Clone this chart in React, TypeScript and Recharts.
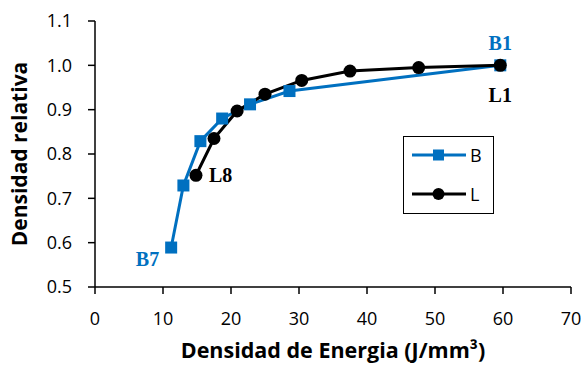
import React from "react";
import {
  ComposedChart,
  Line,
  XAxis,
  YAxis,
} from "recharts";

const bEnergy = [11.2, 13.0, 15.5, 18.7, 22.8, 28.6, 59.6];
const bDensity = [0.589, 0.729, 0.829, 0.88, 0.912, 0.942, 1.0];
const bLabels = ["B7", "", "", "", "", "", "B1"];

const lEnergy = [14.85, 17.5, 20.9, 25.0, 30.4, 37.5, 47.6, 59.6];
const lDensity = [0.752, 0.835, 0.897, 0.935, 0.966, 0.987, 0.995, 1.0];
const lLabels = ["L8", "", "", "", "", "", "", "L1"];

const xTicks = [0, 10, 20, 30, 40, 50, 60, 70];
const yTicks = [0.5, 0.6, 0.7, 0.8, 0.9, 1.0, 1.1];

const BLUE = "#0070C0";

const bData = bEnergy.map((x, i) => ({ x, y: bDensity[i] }));
const lData = lEnergy.map((x, i) => ({ x, y: lDensity[i] }));

const SquareDot = (props: any) => {
  const { cx, cy } = props;
  if (cx == null || cy == null) return null;
  return <rect x={cx - 6} y={cy - 6} width={12} height={12} fill={BLUE} />;
};

const CircleDot = (props: any) => {
  const { cx, cy } = props;
  if (cx == null || cy == null) return null;
  return <circle cx={cx} cy={cy} r={6.5} fill="#000" />;
};

const tagStyle = {
  fontFamily: "Liberation Serif",
  fontWeight: 700,
  fontSize: 20,
};

const BTag = (props: any) => {
  const { x, y, index } = props;
  const t = bLabels[index];
  if (!t) return null;
  if (t === "B7")
    return (
      <text x={x - 12} y={y + 18} textAnchor="end" fill={BLUE} style={tagStyle}>
        {t}
      </text>
    );
  return (
    <text x={x} y={y - 15} textAnchor="middle" fill={BLUE} style={tagStyle}>
      {t}
    </text>
  );
};

const LTag = (props: any) => {
  const { x, y, index } = props;
  const t = lLabels[index];
  if (!t) return null;
  if (t === "L8")
    return (
      <text x={x + 13} y={y + 7} textAnchor="start" fill="#000" style={tagStyle}>
        {t}
      </text>
    );
  return (
    <text x={x} y={y + 37} textAnchor="middle" fill="#000" style={tagStyle}>
      {t}
    </text>
  );
};

const LegendBox = () => (
  <div
    style={{
      position: "absolute",
      left: 403,
      top: 136,
      width: 91,
      height: 78,
      border: "1.5px solid #000",
      background: "#fff",
      boxSizing: "border-box",
      fontFamily: "Open Sans",
      fontSize: 18,
    }}
  >
    <svg width={88} height={75}>
      <line x1={8} y1={18} x2={62} y2={18} stroke={BLUE} strokeWidth={3} />
      <rect x={29} y={12.5} width={11} height={11} fill={BLUE} />
      <text x={66} y={25} fill="#000">B</text>
      <line x1={8} y1={57} x2={62} y2={57} stroke="#000" strokeWidth={3} />
      <circle cx={34.5} cy={57} r={6} fill="#000" />
      <text x={66} y={64} fill="#000">L</text>
    </svg>
  </div>
);

const tickFont = { fontFamily: "Open Sans", fontSize: 18, fill: "#000" };
const titleStyle = {
  fontFamily: "Open Sans",
  fontWeight: 700,
  fontSize: 21,
  fill: "#000",
};

export default function App() {
  return (
    <div style={{ position: "absolute", left: 0, top: 0, background: "#fff" }}>
      <ComposedChart
        width={585}
        height={365}
        margin={{ top: 21, right: 14, bottom: 0, left: 0 }}
      >
        <XAxis
          xAxisId="b"
          dataKey="x"
          type="number"
          domain={[0, 70]}
          ticks={xTicks}
          tick={tickFont}
          tickLine={{ stroke: "#000", strokeWidth: 1.5 }}
          axisLine={{ stroke: "#000", strokeWidth: 1.5 }}
          tickSize={7}
          tickMargin={18}
          height={78}
          allowDataOverflow
          label={{
            value: "Densidad de Energia (J/mm³)",
            position: "insideBottom",
            offset: 7,
            style: { ...titleStyle, fontSize: 21.5 },
          }}
        />
        <XAxis
          xAxisId="top"
          orientation="top"
          type="number"
          domain={[0, 70]}
          tick={false}
          tickLine={false}
          axisLine={{ stroke: "#000", strokeWidth: 1.5 }}
          height={0}
        />
        <YAxis
          yAxisId="l"
          type="number"
          domain={[0.5, 1.1]}
          ticks={yTicks}
          tickFormatter={(v: number) => v.toFixed(1)}
          tick={tickFont}
          tickLine={{ stroke: "#000", strokeWidth: 1.5 }}
          axisLine={{ stroke: "#000", strokeWidth: 1.5 }}
          tickSize={7}
          tickMargin={16}
          width={95}
          allowDataOverflow
          label={{
            value: "Densidad relativa",
            angle: -90,
            position: "insideLeft",
            offset: 20,
            style: { ...titleStyle, textAnchor: "middle" },
          }}
        />
        <YAxis
          yAxisId="r"
          orientation="right"
          type="number"
          domain={[0.5, 1.1]}
          tick={false}
          tickLine={false}
          axisLine={{ stroke: "#000", strokeWidth: 1.5 }}
          width={0}
        />
        <Line
          xAxisId="b"
          yAxisId="l"
          data={bData}
          dataKey="y"
          name="B"
          stroke={BLUE}
          strokeWidth={3}
          dot={<SquareDot />}
          activeDot={false}
          label={<BTag />}
          isAnimationActive={false}
        />
        <Line
          xAxisId="b"
          yAxisId="l"
          data={lData}
          dataKey="y"
          name="L"
          stroke="#000"
          strokeWidth={3}
          dot={<CircleDot />}
          activeDot={false}
          label={<LTag />}
          isAnimationActive={false}
        />
      </ComposedChart>
      <LegendBox />
    </div>
  );
}
